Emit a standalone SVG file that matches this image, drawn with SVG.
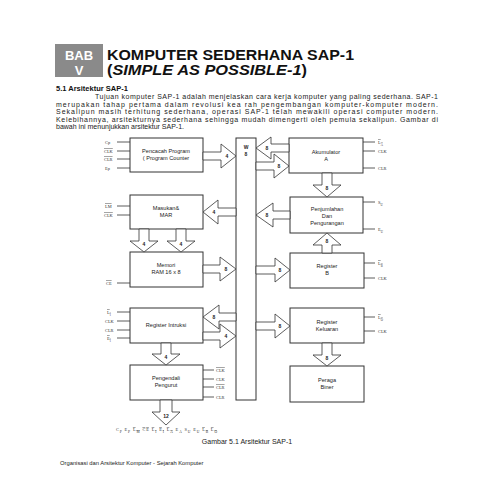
<svg xmlns="http://www.w3.org/2000/svg" width="495" height="495" viewBox="0 0 495 495">
<style>
.bx{fill:#fff;stroke:#333;stroke-width:1}
.ar{fill:#fff;stroke:#333;stroke-width:0.8;stroke-linejoin:miter}
.cl{stroke:#333;stroke-width:0.8}
.t{font-family:"Liberation Sans",Arial,sans-serif;font-size:5.6px;fill:#222;text-anchor:middle}
.n{font-family:"Liberation Sans",Arial,sans-serif;font-size:5px;font-weight:bold;fill:#222;text-anchor:middle}
.s{font-family:"Liberation Serif","Times New Roman",serif;font-size:4.4px;fill:#333}
.o{text-decoration:overline}
.p{font-family:"Liberation Sans",Arial,sans-serif;font-size:7px;fill:#222}
</style>
<rect width="495" height="495" fill="#fff"/>
<g id="header">
<rect x="55" y="44" width="48" height="33" fill="#8a8a8a"/>
<text x="79" y="60" font-family="Liberation Sans,Arial,sans-serif" font-size="13" font-weight="bold" fill="#fff" text-anchor="middle">BAB</text>
<text x="79" y="75" font-family="Liberation Sans,Arial,sans-serif" font-size="13" font-weight="bold" fill="#fff" text-anchor="middle">V</text>
<text x="107" y="60" font-family="Liberation Sans,Arial,sans-serif" font-size="14" font-weight="bold" fill="#111" textLength="247" lengthAdjust="spacingAndGlyphs">KOMPUTER SEDERHANA SAP-1</text>
<text x="107" y="75" font-family="Liberation Sans,Arial,sans-serif" font-size="14" font-weight="bold" fill="#111" textLength="200" lengthAdjust="spacingAndGlyphs">(<tspan font-style="italic">SIMPLE AS POSSIBLE-1</tspan>)</text>
<text x="56" y="91" font-family="Liberation Sans,Arial,sans-serif" font-size="7.5" font-weight="bold" fill="#111">5.1 Arsitektur SAP-1</text>
<text class="p" x="95" y="99" textLength="343" lengthAdjust="spacing">Tujuan komputer SAP-1 adalah menjelaskan cara kerja komputer yang paling sederhana. SAP-1</text>
<text class="p" x="56" y="106.5" textLength="382" lengthAdjust="spacing">merupakan tahap pertama dalam revolusi kea rah pengembangan komputer-komputer modern.</text>
<text class="p" x="56" y="114" textLength="382" lengthAdjust="spacing">Sekalipun masih terhitung sederhana, operasi SAP-1 telah mewakili operasi computer modern.</text>
<text class="p" x="56" y="121.5" textLength="382" lengthAdjust="spacing">Kelebihannya, arsitekturnya sederhana sehingga mudah dimengerti oleh pemula sekalipun. Gambar di</text>
<text class="p" x="56" y="129">bawah ini menunjukkan arsitektur SAP-1.</text>
</g>
<g id="bus">
<rect class="bx" x="236" y="138" width="20" height="262"/>
<text class="n" x="246" y="149" font-size="6.5">W</text>
<text class="n" x="246" y="156" font-size="6">8</text>
</g>
<g id="pc">
<rect class="bx" x="130" y="138" width="73" height="34"/>
<text class="t" x="166" y="153">Pencacah Program</text>
<text class="t" x="166" y="160">( Program Counter</text>
<line class="cl" x1="117" y1="142" x2="130" y2="142"/><text class="s" x="105" y="143.5">Cp</text>
<line class="cl" x1="117" y1="151" x2="130" y2="151"/><text class="s o" x="104" y="152.5">CLK</text>
<line class="cl" x1="117" y1="159" x2="130" y2="159"/><text class="s o" x="104" y="160.5">CLR</text>
<line class="cl" x1="117" y1="168" x2="130" y2="168"/><text class="s" x="105" y="169.5">Ep</text>
</g>
<g id="mar">
<rect class="bx" x="130" y="195" width="73" height="34"/>
<text class="t" x="166" y="210">Masukan&amp;</text>
<text class="t" x="166" y="217">MAR</text>
<line class="cl" x1="117" y1="206" x2="130" y2="206"/><text class="s o" x="105" y="207.5">LM</text>
<line class="cl" x1="117" y1="215" x2="130" y2="215"/><text class="s o" x="104" y="216.5">CLK</text>
</g>
<g id="memori">
<rect class="bx" x="130" y="252" width="73" height="35"/>
<text class="t" x="166" y="267">Memori</text>
<text class="t" x="166" y="274">RAM 16 x 8</text>
<line class="cl" x1="117" y1="283" x2="130" y2="283"/><text class="s o" x="106" y="284.5">CE</text>
</g>
<g id="ir">
<rect class="bx" x="130" y="308" width="73" height="35"/>
<text class="t" x="166" y="327">Register Intruksi</text>
<line class="cl" x1="117" y1="312" x2="130" y2="312"/><text class="s o" x="107" y="313.5">L<tspan font-size="3" baseline-shift="sub">I</tspan></text>
<line class="cl" x1="117" y1="321" x2="130" y2="321"/><text class="s" x="105" y="322.5">CLK</text>
<line class="cl" x1="117" y1="330" x2="130" y2="330"/><text class="s" x="105" y="331.5">CLR</text>
<line class="cl" x1="117" y1="338" x2="130" y2="338"/><text class="s o" x="107" y="339.5">E<tspan font-size="3" baseline-shift="sub">I</tspan></text>
</g>
<g id="pengendali">
<rect class="bx" x="130" y="365" width="73" height="35"/>
<text class="t" x="166" y="380">Pengendali</text>
<text class="t" x="166" y="387">Pengurut</text>
<line class="cl" x1="203" y1="370" x2="214" y2="370"/><text class="s o" x="216" y="371.5">CLK</text>
<line class="cl" x1="203" y1="379" x2="214" y2="379"/><text class="s" x="216" y="380.5">CLK</text>
<line class="cl" x1="203" y1="387" x2="214" y2="387"/><text class="s o" x="216" y="388.5">CLR</text>
<line class="cl" x1="203" y1="397" x2="214" y2="397"/><text class="s" x="216" y="398.5">CLR</text>
</g>
<g id="akumulator">
<rect class="bx" x="289" y="138" width="74" height="35"/>
<text class="t" x="326" y="154">Akumulator</text>
<text class="t" x="326" y="161">A</text>
<line class="cl" x1="363" y1="142" x2="375" y2="142"/><text class="s o" x="378" y="143.5">L<tspan font-size="3" baseline-shift="sub">A</tspan></text>
<line class="cl" x1="363" y1="151" x2="375" y2="151"/><text class="s" x="378" y="152.5">CLK</text>
<line class="cl" x1="363" y1="168" x2="375" y2="168"/><text class="s" x="378" y="169.5">CLR</text>
</g>
<g id="penjumlahan">
<rect class="bx" x="290" y="197" width="73" height="36"/>
<text class="t" x="327" y="211">Penjumlahan</text>
<text class="t" x="327" y="218">Dan</text>
<text class="t" x="327" y="225">Pengurangan</text>
<line class="cl" x1="363" y1="202" x2="375" y2="202"/><text class="s" x="378" y="203.5">S<tspan font-size="3" baseline-shift="sub">U</tspan></text>
<line class="cl" x1="363" y1="229" x2="375" y2="229"/><text class="s" x="378" y="230.5">E<tspan font-size="3" baseline-shift="sub">U</tspan></text>
</g>
<g id="regb">
<rect class="bx" x="290" y="253" width="74" height="35"/>
<text class="t" x="327" y="268">Register</text>
<text class="t" x="327" y="275">B</text>
<line class="cl" x1="364" y1="263" x2="375" y2="263"/><text class="s o" x="378" y="264.5">L<tspan font-size="3" baseline-shift="sub">B</tspan></text>
<line class="cl" x1="364" y1="278" x2="375" y2="278"/><text class="s" x="378" y="279.5">CLK</text>
</g>
<g id="keluaran">
<rect class="bx" x="290" y="308" width="74" height="35"/>
<text class="t" x="327" y="324">Register</text>
<text class="t" x="327" y="331">Keluaran</text>
<line class="cl" x1="364" y1="317" x2="375" y2="317"/><text class="s o" x="378" y="318.5">L<tspan font-size="3" baseline-shift="sub">O</tspan></text>
<line class="cl" x1="364" y1="331" x2="375" y2="331"/><text class="s" x="378" y="332.5">CLK</text>
</g>
<g id="peraga">
<rect class="bx" x="290" y="366" width="74" height="36"/>
<text class="t" x="327" y="382">Peraga</text>
<text class="t" x="327" y="389">Biner</text>
</g>
<g id="connectors">
<polygon class="ar" points="203,152 221,152 221,144 236,156 221,168 221,160 203,160"/><text class="n" x="227" y="158">4</text>
<polygon class="ar" points="236,208 218,208 218,200 203,212 218,224 218,216 236,216"/><text class="n" x="214" y="214">4</text>
<polygon class="ar" points="139,229 149,229 149,241 158,241 144,252 130,241 139,241"/><text class="n" x="144" y="246">4</text>
<polygon class="ar" points="176,229 186,229 186,241 195,241 181,252 167,241 176,241"/><text class="n" x="181" y="246">4</text>
<polygon class="ar" points="203,265 220,265 220,257 236,269 220,281 220,273 203,273"/><text class="n" x="226" y="271">8</text>
<polygon class="ar" points="236,313 219,313 219,305 203,317 219,329 219,321 236,321"/><text class="n" x="214" y="319">8</text>
<polygon class="ar" points="203,332 220,332 220,324 236,336 220,348 220,340 203,340"/><text class="n" x="226" y="338">4</text>
<polygon class="ar" points="161,343 171,343 171,354 180,354 166,365 152,354 161,354"/><text class="n" x="166" y="359">4</text>
<polygon class="ar" points="160,400 172,400 172,412 180,412 166,425 152,412 160,412"/><text class="n" x="166" y="418">12</text>
<polygon class="ar" points="289,144 271,144 271,137 256,148 271,159 271,152 289,152"/><text class="n" x="267" y="150">8</text>
<polygon class="ar" points="256,162 274,162 274,154 289,166 274,178 274,170 256,170"/><text class="n" x="279" y="168">8</text>
<polygon class="ar" points="322,173 332,173 332,185 341,185 327,197 313,185 322,185"/><text class="n" x="327" y="190">8</text>
<polygon class="ar" points="290,211 273,211 273,203 256,215 273,227 273,219 290,219"/><text class="n" x="267" y="217">8</text>
<polygon class="ar" points="322,253 332,253 332,245 341,245 327,233 313,245 322,245"/><text class="n" x="327" y="243">8</text>
<polygon class="ar" points="256,266 275,266 275,258 290,270 275,282 275,274 256,274"/><text class="n" x="280" y="272">8</text>
<polygon class="ar" points="256,322 275,322 275,314 290,326 275,338 275,330 256,330"/><text class="n" x="280" y="328">8</text>
<polygon class="ar" points="322,343 332,343 332,355 341,355 327,366 313,355 322,355"/><text class="n" x="327" y="360">8</text>
</g>
<g id="footer">
<text class="s" x="116" y="431" font-size="5.4" textLength="101" lengthAdjust="spacing">C<tspan font-size="3.6" baseline-shift="sub">P</tspan> E<tspan font-size="3.6" baseline-shift="sub">P</tspan> <tspan class="o">L<tspan font-size="3.6" baseline-shift="sub">M</tspan></tspan> <tspan class="o">CE</tspan> <tspan class="o">L<tspan font-size="3.6" baseline-shift="sub">I</tspan></tspan> <tspan class="o">E<tspan font-size="3.6" baseline-shift="sub">I</tspan></tspan> <tspan class="o">L<tspan font-size="3.6" baseline-shift="sub">A</tspan></tspan> E<tspan font-size="3.6" baseline-shift="sub">A</tspan>  S<tspan font-size="3.6" baseline-shift="sub">U</tspan> E<tspan font-size="3.6" baseline-shift="sub">U</tspan> <tspan class="o">L<tspan font-size="3.6" baseline-shift="sub">B</tspan></tspan> <tspan class="o">L<tspan font-size="3.6" baseline-shift="sub">O</tspan></tspan></text>
<text x="247" y="443.5" font-family="Liberation Sans,Arial,sans-serif" font-size="7" fill="#222" text-anchor="middle">Gambar 5.1 Arsitektur SAP-1</text>
<text x="60" y="465" font-family="Liberation Sans,Arial,sans-serif" font-size="5.8" fill="#222">Organisasi dan Arsitektur Komputer  - Sejarah Komputer</text>
</g>
</svg>
